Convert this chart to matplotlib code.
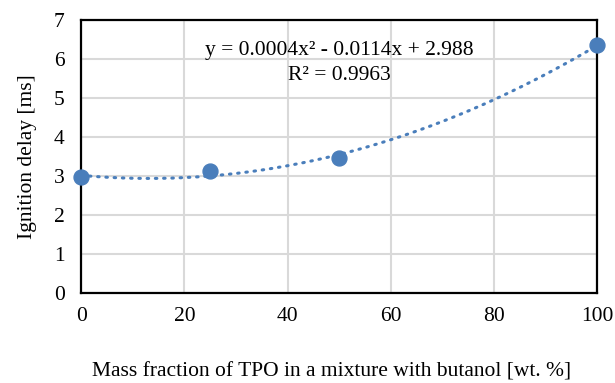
import matplotlib
matplotlib.use('Agg')
import matplotlib.pyplot as plt
import numpy as np

# data
tpo_fraction = [0, 25, 50, 100]
ignition_delay = [2.97, 3.12, 3.46, 6.36]
x_ticks = [0, 20, 40, 60, 80, 100]
y_ticks = [0, 1, 2, 3, 4, 5, 6, 7]
trend_label = 'y = 0.0004x² - 0.0114x + 2.988\nR² = 0.9963'

plt.rcParams['font.family'] = ['Liberation Serif', 'DejaVu Serif']

fig = plt.figure(figsize=(6.15, 3.83), dpi=100)
ax = fig.add_axes([0.132, 0.235, 0.839, 0.713])

# 2nd order polynomial trendline
coef = np.polyfit(tpo_fraction, ignition_delay, 2)
xs = np.linspace(0, 100, 200)
ax.plot(xs, np.polyval(coef, xs), color='#4a7ebb', lw=2.2, ls=(0, (0.5, 2.2)),
        dash_capstyle='round', zorder=2)
ax.scatter(tpo_fraction, ignition_delay, s=115, color='#4a7ebb', zorder=3,
           clip_on=False)

ax.set_xlim(0, 100)
ax.set_ylim(0, 7)
ax.set_xticks(x_ticks)
ax.set_yticks(y_ticks)
ax.grid(True, color='#d9d9d9', lw=1.5)
ax.set_axisbelow(True)
for s in ax.spines.values():
    s.set_linewidth(1.6)
    s.set_color('black')
ax.tick_params(length=0, labelsize=15.5)
ax.tick_params(axis='x', pad=10)
ax.tick_params(axis='y', pad=12)

ax.text(0.5, 0.843, trend_label, transform=ax.transAxes, ha='center',
        va='center', fontsize=15.5, linespacing=1.45)

ax.set_xlabel('Mass fraction of TPO in a mixture with butanol [wt. %]',
              fontsize=15.5)
ax.xaxis.set_label_coords(0.486, -0.29)
ax.xaxis.label.set_va('center')
ax.set_ylabel('Ignition delay [ms]', fontsize=15.5, labelpad=12)

plt.savefig('out.png', dpi=100)
